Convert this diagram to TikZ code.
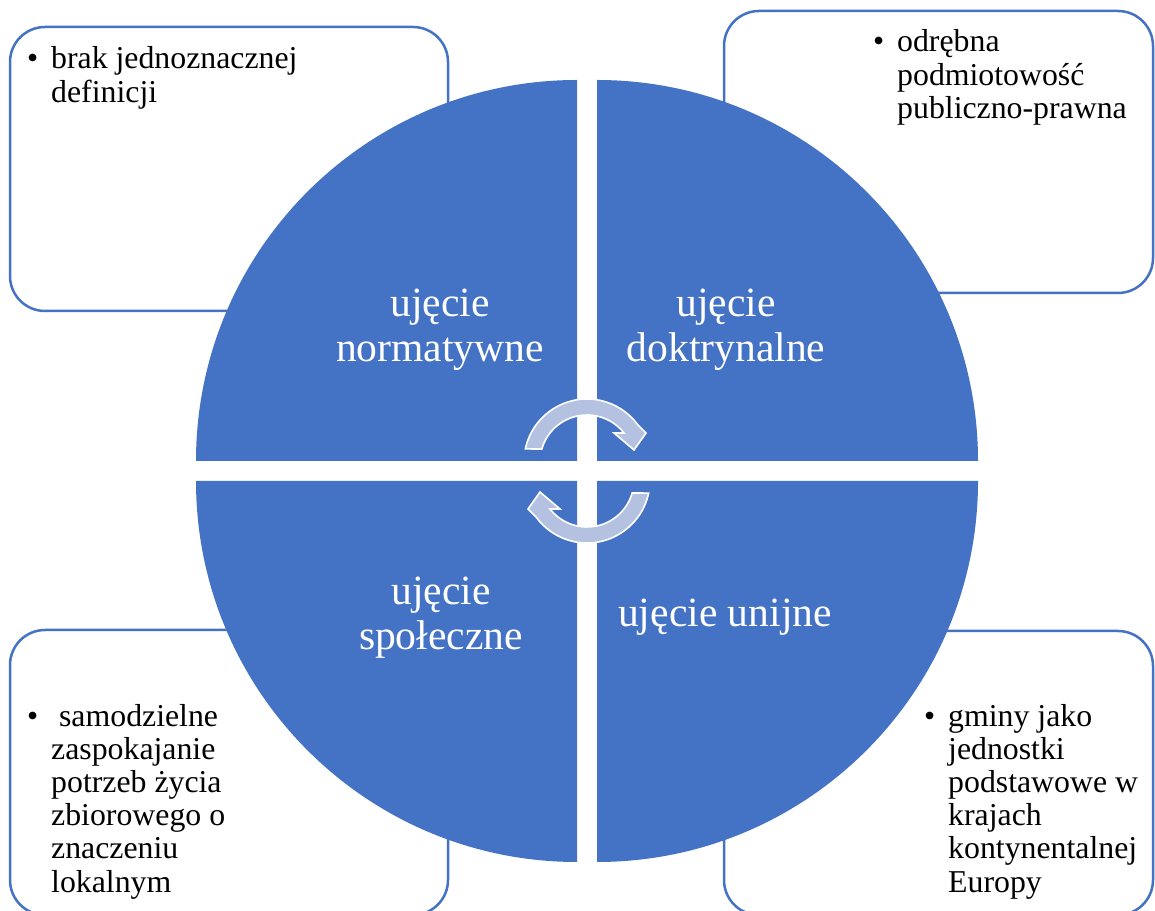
\documentclass[tikz,border=0pt]{standalone}
\usepackage{fontspec}
\setmainfont{Liberation Serif}
\usetikzlibrary{positioning}

\definecolor{quarterblue}{RGB}{68,114,196}
\definecolor{arrowblue}{RGB}{180,193,225}

\begin{document}
\begin{tikzpicture}[
    x = 1pt, y = 1pt,
    itembox/.style = {draw=quarterblue, rectangle, rounded corners=35pt, line width=2.5pt, fill=white, inner sep=0pt},
    quarter/.style = {fill=quarterblue},
    qtext/.style = {text=white, inner sep=0pt, anchor=base, font=\fontsize{41.6}{45}\selectfont},
    itemtext/.style = {inner sep=0pt, anchor=base west, font=\fontsize{31.8}{33.2}\selectfont},
    cyclearrow/.style = {fill=arrowblue, draw=white, line width=1.6pt, line join=miter}
]
    \useasboundingbox (0,0) rectangle (1155,910);
    \clip (0,0) rectangle (1155,910);

    % Boxes
    \node [itembox, minimum width=438, minimum height=284] (boxnorm) at (229,741) {};
    \node [itembox, minimum width=429, minimum height=282] (boxdokt) at (938.5,758) {};
    \node [itembox, minimum width=438, minimum height=285] (boxspol) at (229,137.5) {};
    \node [itembox, minimum width=429, minimum height=284] (boxunij) at (938.5,137) {};

    % Quarters
    \fill [quarter] (577,449) -- ++(-381,0) arc (180:90:381) -- cycle;
    \fill [quarter] (597,449) -- ++(381,0) arc (0:90:381) -- cycle;
    \fill [quarter] (577,429) -- ++(-381,0) arc (180:270:381) -- cycle;
    \fill [quarter] (597,429) -- ++(381,0) arc (0:-90:381) -- cycle;

    % Quarter labels
    \node [qtext] (qnorm) at (440,593) {\begin{tabular}[t]{@{}c@{}}ujęcie\\normatywne\end{tabular}};
    \node [qtext] (qdokt) at (726,593) {\begin{tabular}[t]{@{}c@{}}ujęcie\\doktrynalne\end{tabular}};
    \node [qtext] (qspol) at (441,305) {\begin{tabular}[t]{@{}c@{}}ujęcie\\społeczne\end{tabular}};
    \node [qtext] (qunij) at (725,283) {ujęcie unijne};

    % Cycle arrows
    \begin{scope}[shift={(587,448)}]
        \draw [cyclearrow] (168:63) arc (168:36:63) -- (59,29) -- (47,12) -- (27,29) -- (38:47) arc (38:164:47) -- cycle;
    \end{scope}
    \begin{scope}[shift={(587,430)}, rotate=180]
        \draw [cyclearrow] (168:63) arc (168:36:63) -- (59,29) -- (47,12) -- (27,29) -- (38:47) arc (38:164:47) -- cycle;
    \end{scope}

    % Box texts
    \node [itemtext] (tnorm) at (27,841) {\begin{tabular}[t]{@{}l@{}l@{}}\makebox[24pt][l]{\textbullet} & brak jednoznacznej\\ & definicji\end{tabular}};
    \node [itemtext] (tdokt) at (873,858) {\begin{tabular}[t]{@{}l@{}l@{}}\makebox[24pt][l]{\textbullet} & odrębna\\ & podmiotowość\\ & publiczno-prawna\end{tabular}};
    \node [itemtext] (tspol) at (27,184) {\begin{tabular}[t]{@{}l@{}l@{}}\makebox[24pt][l]{\textbullet} & ~samodzielne\\ & zaspokajanie\\ & potrzeb życia\\ & zbiorowego o\\ & znaczeniu\\ & lokalnym\end{tabular}};
    \node [itemtext] (tunij) at (924,184) {\begin{tabular}[t]{@{}l@{}l@{}}\makebox[24pt][l]{\textbullet} & gminy jako\\ & jednostki\\ & podstawowe w\\ & krajach\\ & kontynentalnej\\ & Europy\end{tabular}};

\end{tikzpicture}
\end{document}
